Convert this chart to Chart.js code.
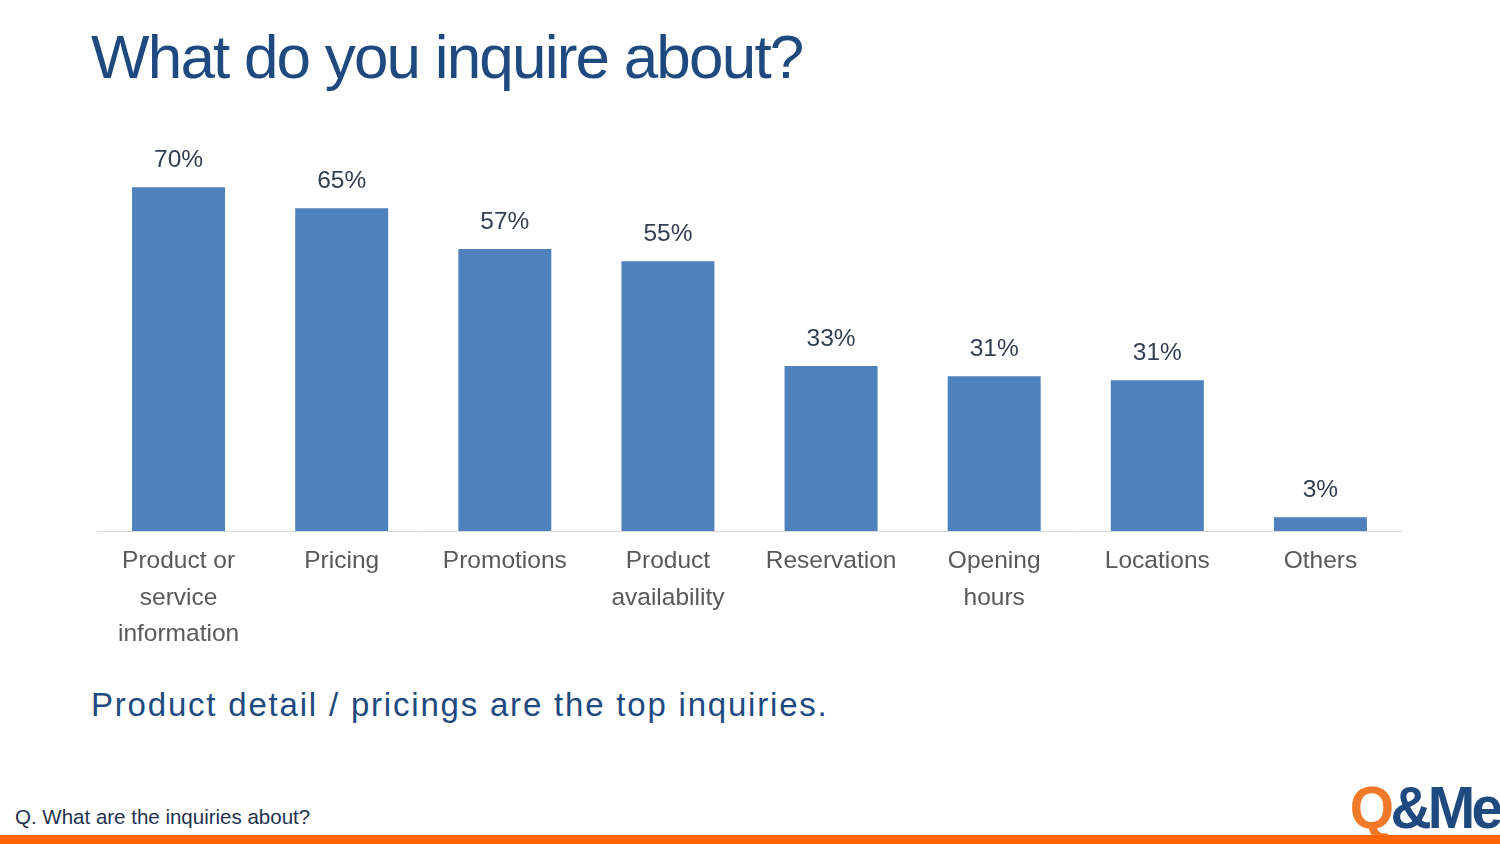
<!DOCTYPE html>
<html>
<head>
<meta charset="utf-8">
<script src="https://cdn.jsdelivr.net/npm/chart.js@4.4.1/dist/chart.umd.min.js"></script>
<style>
  html, body { margin: 0; padding: 0; background: #fff; }
  body { width: 1500px; height: 844px; position: relative; overflow: hidden; font-family: "Liberation Sans", Arial, sans-serif; }
  .txt { position: absolute; line-height: 1; white-space: nowrap; }
  #title { left: 91px; top: 26px; font-size: 62px; color: #1F4A80; letter-spacing: -1.8px; }
  #chartBox { position: absolute; left: 97px; top: 138px; width: 1305px; height: 523px; }
  #takeaway { left: 91px; top: 688px; font-size: 33px; color: #1F4A80; letter-spacing: 1.8px; }
  #question { left: 15px; top: 807px; font-size: 20.5px; color: #1F3350; }
  #logo { right: 1px; top: 778px; font-size: 60px; font-weight: bold; letter-spacing: -4px; transform: scaleX(0.95); transform-origin: right; }
  #logo .q { color: #F07A2A; }
  #logo .me { color: #1F4A80; }
  #bottomBar { position: absolute; left: 0; top: 835px; width: 1500px; height: 9px; background: #FF6600; }
</style>
</head>
<body>
<div id="title" class="txt">What do you inquire about?</div>
<div id="chartBox"><canvas id="myChart"></canvas></div>
<div id="takeaway" class="txt">Product detail / pricings are the top inquiries.</div>
<div id="question" class="txt">Q. What are the inquiries about?</div>
<div id="logo" class="txt"><span class="q">Q</span><span class="me">&amp;Me</span></div>
<div id="bottomBar"></div>

<script>
const categories = [
    ['Product or', 'service', 'information'],
    'Pricing',
    'Promotions',
    ['Product', 'availability'],
    'Reservation',
    ['Opening', 'hours'],
    'Locations',
    'Others'
];
const shares = [70, 65.7, 57.4, 54.9, 33.6, 31.5, 30.7, 2.8];
const shareLabels = ['70%', '65%', '57%', '55%', '33%', '31%', '31%', '3%'];

// draws the % above each bar
const barLabels = {
    id: 'barLabels',
    afterDatasetsDraw(chart) {
        const ctx = chart.ctx;
        const meta = chart.getDatasetMeta(0);
        ctx.save();
        ctx.font = '24.5px "Liberation Sans", Arial, sans-serif';
        ctx.fillStyle = '#333F50';
        ctx.textAlign = 'center';
        ctx.textBaseline = 'middle';
        meta.data.forEach((bar, i) => {
            ctx.fillText(shareLabels[i], bar.x, bar.y - 27);
        });
        ctx.restore();
    }
};

const ctx = document.getElementById('myChart').getContext('2d');
const chart = new Chart(ctx, {
    type: 'bar',
    data: {
        labels: categories,
        datasets: [{
            data: shares,
            backgroundColor: '#4F81BD',
            barPercentage: 1,
            categoryPercentage: 0.57,
        }]
    },
    options: {
        responsive: true,
        maintainAspectRatio: false,
        animation: false,
        layout: { padding: 0 },
        plugins: {
            legend: { display: false },
            tooltip: { enabled: false },
        },
        scales: {
            x: {
                grid: { display: false, drawTicks: false },
                border: { display: true, color: '#D9D9D9', width: 1 },
                ticks: {
                    color: '#595959',
                    padding: 12,
                    maxRotation: 0,
                    autoSkip: false,
                    font: { family: '"Liberation Sans", Arial, sans-serif', size: 24.5, lineHeight: 1.49 },
                },
                afterFit(scale) { scale.height = 130; },
            },
            y: {
                display: false,
                min: 0,
                max: 80,
            }
        }
    },
    plugins: [barLabels]
});
</script>
</body>
</html>
